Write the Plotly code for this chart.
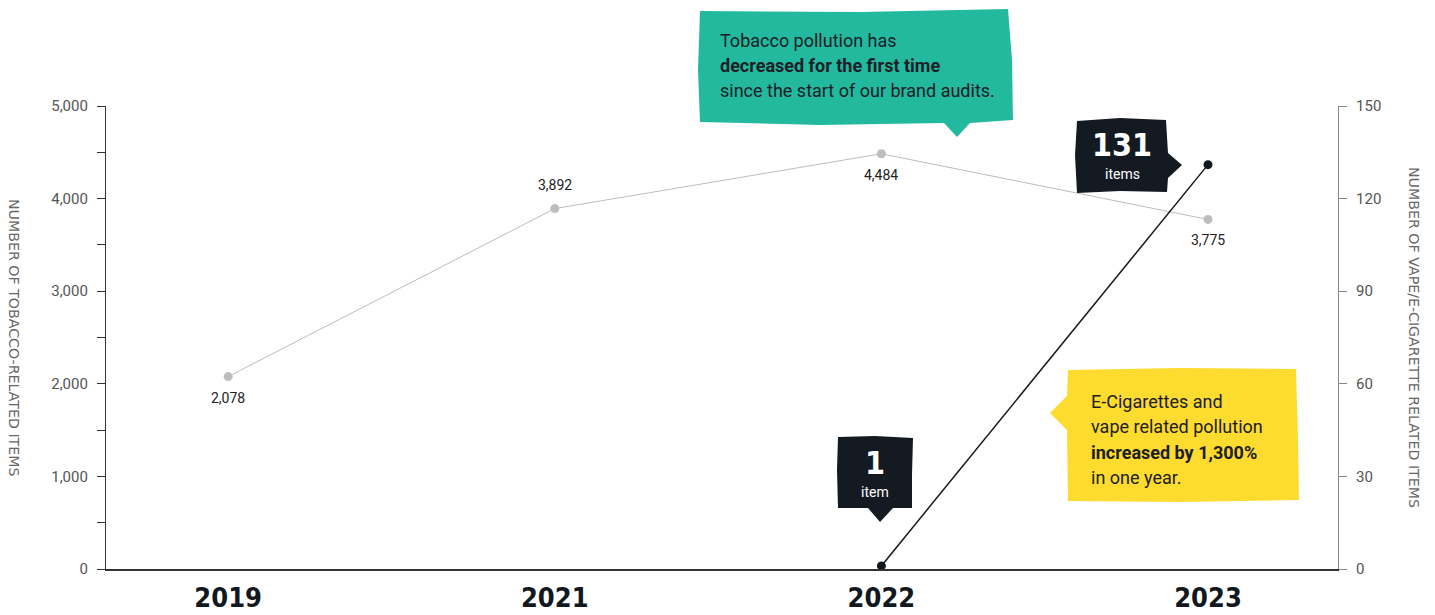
import plotly.graph_objects as go

years = ["2019", "2021", "2022", "2023"]
tobacco = [2078, 3892, 4484, 3775]
tobacco_labels = ["2,078", "3,892", "4,484", "3,775"]
tobacco_label_above = [False, True, False, False]
vape_years = ["2022", "2023"]
vape = [1, 131]

left_ticks = [0, 500, 1000, 1500, 2000, 2500, 3000, 3500, 4000, 4500, 5000]
left_ticktext = ["0", "", "1,000", "", "2,000", "", "3,000", "", "4,000", "", "5,000"]
right_ticks = [0, 30, 60, 90, 120, 150]

W, H = 1435, 615
L, R, T, B = 106, 97, 106, 46
PW, PH = W - L - R, H - T - B

def px(x):
    return (x - L) / PW

def py(y):
    return (H - B - y) / PH

def path(points):
    return "M " + " L ".join(f"{px(x):.5f},{py(y):.5f}" for x, y in points) + " Z"

TEXT = "#1b2026"
BODY = "Roboto"
DISPLAY = "Liberation Sans Narrow, DejaVu Sans Condensed"

fig = go.Figure()
fig.add_trace(go.Scatter(
    x=years, y=tobacco, mode="lines+markers",
    line=dict(color="#bdbdbd", width=1),
    marker=dict(color="#bdbdbd", size=9),
    cliponaxis=False, showlegend=False, hoverinfo="skip"))
fig.add_trace(go.Scatter(
    x=vape_years, y=vape, mode="lines+markers", yaxis="y2",
    line=dict(color="#111820", width=1.5),
    marker=dict(color="#111820", size=9),
    cliponaxis=False, showlegend=False, hoverinfo="skip"))

ann = []
for i, (v, lab, above) in enumerate(zip(tobacco, tobacco_labels, tobacco_label_above)):
    ann.append(dict(x=i, y=v, xref="x", yref="y", text=lab, showarrow=False,
                    yshift=24 if above else -21, xanchor="center", yanchor="middle",
                    font=dict(family=BODY, size=14, color="#222")))

shapes = []
shapes.append(dict(type="path", xref="paper", yref="paper", layer="above",
    path=path([(700, 11), (860, 12), (1008, 9), (1012, 60), (1013, 120), (970, 123),
               (957, 137), (944, 123), (820, 125), (700, 122), (698, 70)]),
    fillcolor="#23b99f", line=dict(width=0)))
shapes.append(dict(type="path", xref="paper", yref="paper", layer="above",
    path=path([(1068, 370), (1180, 368), (1296, 369), (1298, 440), (1299, 500),
               (1180, 502), (1068, 501), (1067, 430), (1050, 413), (1067, 396)]),
    fillcolor="#fedb2f", line=dict(width=0)))
shapes.append(dict(type="path", xref="paper", yref="paper", layer="above",
    path=path([(1077, 121), (1120, 118), (1166, 120), (1168, 153), (1182, 165),
               (1168, 178), (1167, 192), (1120, 191), (1077, 193), (1075, 155)]),
    fillcolor="#141a22", line=dict(width=0)))
shapes.append(dict(type="path", xref="paper", yref="paper", layer="above",
    path=path([(838, 437), (875, 436), (913, 438), (912, 475), (912, 508),
               (893, 508), (880, 522), (868, 508), (838, 508), (837, 470)]),
    fillcolor="#141a22", line=dict(width=0)))

def text(x, y, s, size, color=TEXT, xanchor="left", family=BODY, angle=0):
    ann.append(dict(x=px(x), y=py(y), xref="paper", yref="paper", text=s,
                    showarrow=False, xanchor=xanchor, yanchor="middle",
                    font=dict(family=family, size=size, color=color),
                    textangle=angle))

text(718, 40, "Tobacco pollution has", 18)
text(718, 65, "<b>decreased for the first time</b>", 18)
text(718, 91, "since the start of our brand audits.", 18)

text(1089, 401, "E-Cigarettes and", 18)
text(1089, 426, "vape related pollution", 18)
text(1089, 452, "<b>increased by 1,300%</b>", 18)
text(1089, 477, "in one year.", 18)

text(1122, 145, "<b>131</b>", 32, color="white", xanchor="center", family=DISPLAY)
text(1122, 174, "items", 14, color="white", xanchor="center")
text(875, 463, "<b>1</b>", 32, color="white", xanchor="center", family=DISPLAY)
text(875, 492, "item", 14, color="white", xanchor="center")

text(14, 337, "NUMBER OF TOBACCO-RELATED ITEMS", 14.2, color="#666",
     xanchor="center", family="DejaVu Sans", angle=90)
text(1414, 337, "NUMBER OF VAPE/E-CIGARETTE RELATED ITEMS", 14.2, color="#666",
     xanchor="center", family="DejaVu Sans", angle=90)

fig.update_layout(
    width=W, height=H,
    margin=dict(l=L, r=R, t=T, b=B, autoexpand=False),
    paper_bgcolor="white", plot_bgcolor="white",
    shapes=shapes, annotations=ann,
    xaxis=dict(type="category", categoryorder="array", categoryarray=years,
               range=[-0.374, 3.398], showgrid=False, zeroline=False,
               showline=True, linecolor="#333", linewidth=1.5,
               ticks="", tickprefix="<b>", ticksuffix="</b>",
               tickfont=dict(family=DISPLAY, size=27, color="#111820"),
               ticklabelstandoff=4, fixedrange=True),
    yaxis=dict(range=[0, 5000], tickvals=left_ticks, ticktext=left_ticktext,
               showgrid=False, zeroline=False, showline=True, linecolor="#333",
               linewidth=1.2, ticks="outside", ticklen=8, tickcolor="#333",
               tickfont=dict(family=BODY, size=15, color="#555"), ticklabelstandoff=6),
    yaxis2=dict(range=[0, 150], tickvals=right_ticks, overlaying="y", side="right",
                showgrid=False, zeroline=False, showline=True, linecolor="#888",
                linewidth=1.2, ticks="outside", ticklen=8, tickcolor="#888",
                tickfont=dict(family=BODY, size=15, color="#555"), ticklabelstandoff=6),
)
fig.write_html("out.html", config={"displayModeBar": False},
               post_script="document.body.style.margin='0';")
